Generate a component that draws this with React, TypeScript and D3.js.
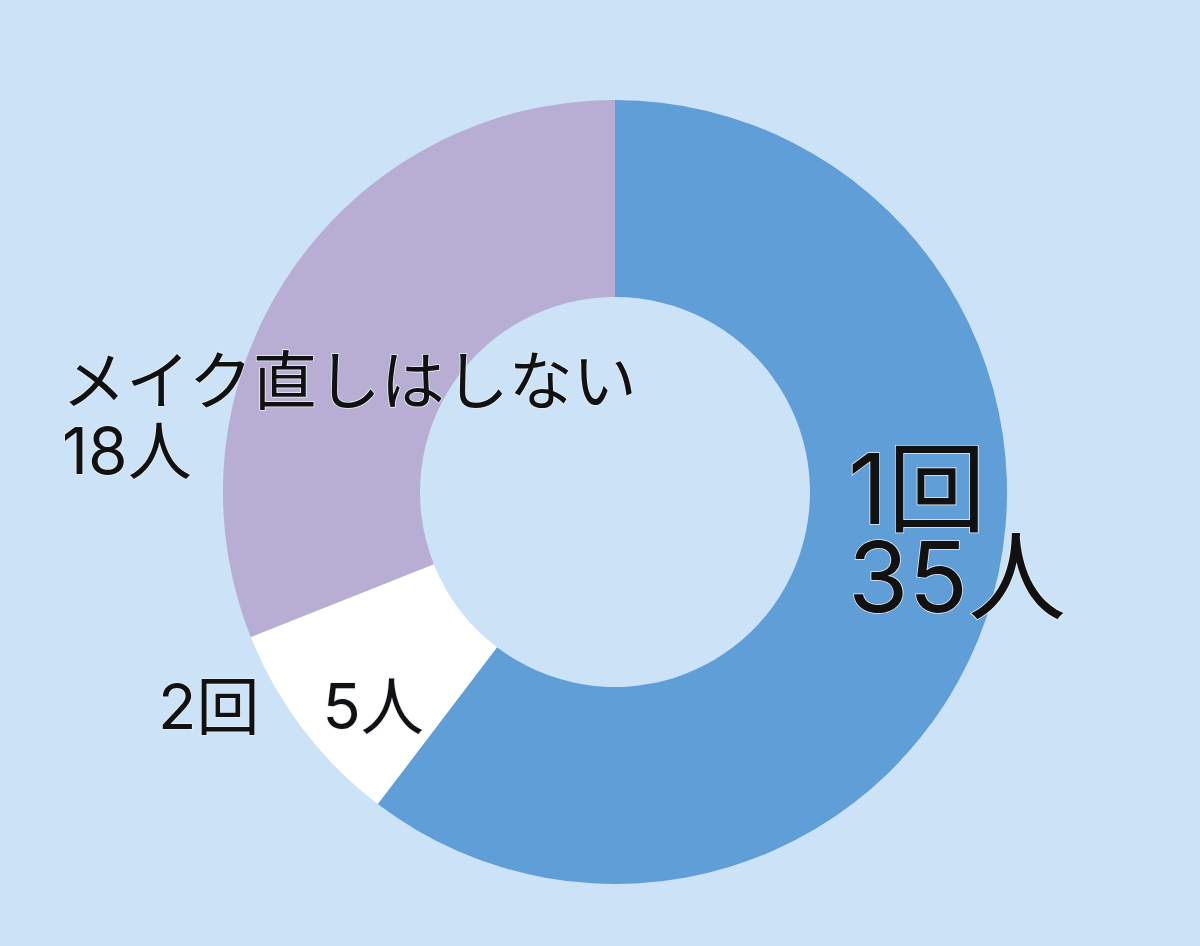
import React from "react";
import * as d3 from "d3";

const categories = ["1回", "2回", "メイク直しはしない"];
const values = [35, 5, 18];
const valueLabels = ["35人", "5人", "18人"];
const colors = ["#5f9ed6", "#ffffff", "#b8aed4"];

const W = 1200;
const H = 946;
const cx = 615;
const cy = 492;
const outerR = 392;
const innerR = 195;

export default function App() {
  const pie = d3.pie<number>().sort(null).value((d) => d);
  const arcs = pie(values);
  const arcGen = d3.arc<d3.PieArcDatum<number>>().innerRadius(innerR).outerRadius(outerR);
  const font = "Inter, 'Noto Sans CJK JP', sans-serif";
  const textStyle: React.CSSProperties = {
    fontFamily: font,
    fill: "#111",
    stroke: "#e8f0fa",
    strokeWidth: 1.5,
    paintOrder: "stroke",
  } as React.CSSProperties;
  return (
    <svg
      width={W}
      height={H}
      style={{ position: "fixed", left: 0, top: 0, display: "block" }}
    >
      <rect x={0} y={0} width={W} height={H} fill="#cce2f7" />
      <g transform={`translate(${cx},${cy})`}>
        {arcs.map((a, i) => (
          <path key={categories[i]} d={arcGen(a) || ""} fill={colors[i]} />
        ))}
      </g>
      <text x={848} y={524} fontSize={98} style={textStyle}>
        {categories[0]}
      </text>
      <text x={848} y={612} fontSize={98} style={textStyle}>
        {valueLabels[0]}
      </text>
      <text x={62} y={404} fontSize={64} style={textStyle}>
        {categories[2]}
      </text>
      <text x={62} y={474} fontSize={64} style={textStyle}>
        {valueLabels[2]}
      </text>
      <text x={158} y={729} fontSize={63} style={textStyle}>
        {categories[1] + "\u3000" + valueLabels[1]}
      </text>
    </svg>
  );
}
